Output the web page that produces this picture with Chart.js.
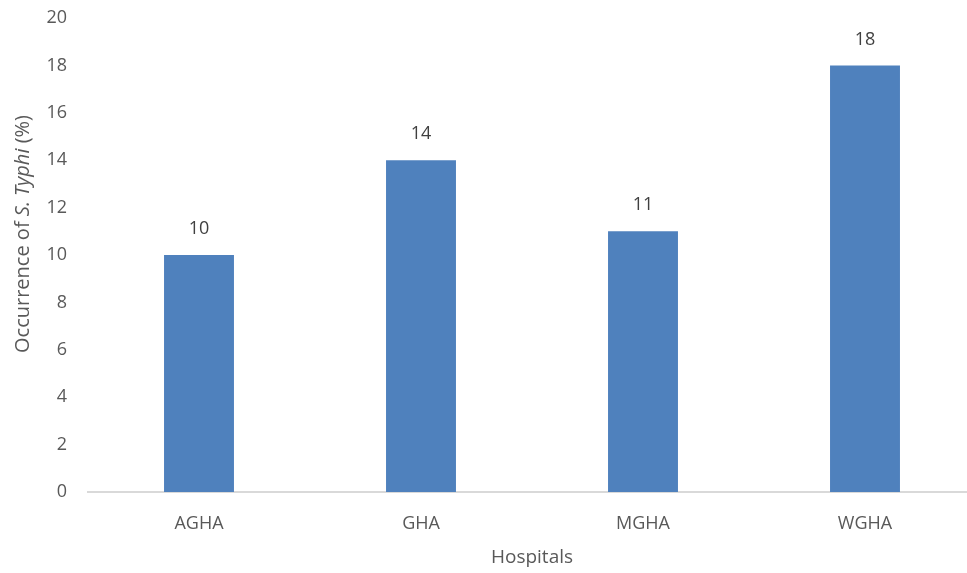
<!DOCTYPE html>
<html>
<head>
<meta charset="utf-8">
<script src="https://cdn.jsdelivr.net/npm/chart.js@4/dist/chart.umd.min.js"></script>
<style>
  html, body { margin: 0; padding: 0; background: #fff; overflow: hidden; }
  #wrap { width: 980px; height: 573px; position: relative; }
</style>
</head>
<body>
<div id="wrap"><canvas id="myChart"></canvas></div>
<script>
const hospitals = ['AGHA', 'GHA', 'MGHA', 'WGHA'];
const occurrence = [10, 14, 11, 18];
const yMin = 0;
const yMax = 20;
const yStep = 2;

const FONT = '"Open Sans", Lato, sans-serif';
const textColor = '#595959';

// bar value labels, placed from the bar elements
const valueLabels = {
  id: 'valueLabels',
  afterDatasetsDraw(chart) {
    const c = chart.ctx;
    const meta = chart.getDatasetMeta(0);
    c.save();
    c.font = '18px ' + FONT;
    c.fillStyle = '#404040';
    c.textAlign = 'center';
    c.textBaseline = 'middle';
    meta.data.forEach((bar, i) => {
      c.fillText(String(occurrence[i]), bar.x, bar.y - 26);
    });
    c.restore();
  }
};

// y title with the italic species name
const yTitle = {
  id: 'yTitle',
  afterDraw(chart) {
    const c = chart.ctx;
    const parts = [
      ['Occurrence of ', 'normal'],
      ['S. Typhi', 'italic'],
      [' (%)', 'normal']
    ];
    c.save();
    let total = 0;
    parts.forEach(p => { c.font = p[1] + ' 20px ' + FONT; total += c.measureText(p[0]).width; });
    c.translate(23, 234);
    c.rotate(-Math.PI / 2);
    c.fillStyle = textColor;
    c.textBaseline = 'middle';
    c.textAlign = 'left';
    let x = -total / 2;
    parts.forEach(p => {
      c.font = p[1] + ' 20px ' + FONT;
      c.fillText(p[0], x, 0);
      x += c.measureText(p[0]).width;
    });
    c.restore();
  }
};

const ctx = document.getElementById('myChart').getContext('2d');
const myChart = new Chart(ctx, {
  type: 'bar',
  data: {
    labels: hospitals,
    datasets: [{
      data: occurrence,
      backgroundColor: '#4F81BD',
      borderWidth: 0,
      barPercentage: 0.315,
      categoryPercentage: 1
    }]
  },
  options: {
    responsive: true,
    maintainAspectRatio: false,
    animation: false,
    layout: { padding: { top: 18, right: 4, left: 0, bottom: 0 } },
    plugins: {
      legend: { display: false },
      tooltip: { enabled: false }
    },
    scales: {
      x: {
        grid: { display: false },
        border: { display: true, color: '#d9d9d9', width: 2 },
        ticks: { color: textColor, font: { family: FONT, size: 18 }, padding: 13 },
        title: { display: true, text: 'Hospitals', color: textColor, font: { family: FONT, size: 19 }, padding: { top: 8 } },
        afterFit(scale) { scale.height = 81; }
      },
      y: {
        min: yMin,
        max: yMax,
        grid: { display: false },
        border: { display: false },
        ticks: { stepSize: yStep, color: textColor, font: { family: FONT, size: 18 }, padding: 13 },
        afterFit(scale) { scale.width = 88; scale.paddingTop = 0; scale.paddingBottom = 0; }
      }
    }
  },
  plugins: [valueLabels, yTitle]
});
</script>
</body>
</html>
